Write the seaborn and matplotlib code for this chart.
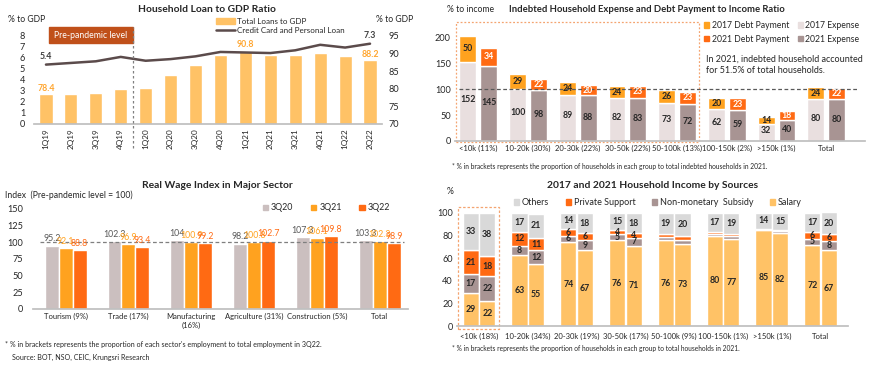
import numpy as np
import pandas as pd
import matplotlib
matplotlib.use("Agg")
import matplotlib.pyplot as plt
import matplotlib.patches as mpatches
from matplotlib.lines import Line2D
import seaborn as sns

# ---------------- data ----------------
quarters = ["1Q19", "2Q19", "3Q19", "4Q19", "1Q20", "2Q20", "3Q20", "4Q20",
            "1Q21", "2Q21", "3Q21", "4Q21", "1Q22", "2Q22"]
loans_to_gdp = [78.4, 78.4, 78.9, 79.9, 80.3, 84.0, 86.9, 89.7,
                90.8, 89.6, 89.6, 90.1, 89.2, 88.2]
credit_card_loan = [5.4, 5.55, 5.7, 6.1, 5.75, 5.9, 6.15, 6.55,
                    6.5, 6.45, 6.7, 7.2, 6.95, 7.3]

debt_groups = ["<10k (11%)", "10-20k (30%)", "20-30k (22%)", "30-50k (22%)",
               "50-100k (13%)", "100-150k (2%)", ">150k (1%)", "Total"]
expense_2017 = [152, 100, 89, 82, 73, 62, 32, 80]
debt_2017 = [50, 29, 24, 24, 26, 20, 14, 24]
expense_2021 = [145, 98, 88, 83, 72, 59, 40, 80]
debt_2021 = [34, 22, 20, 23, 23, 23, 18, 22]

sectors = ["Tourism (9%)", "Trade (17%)", "Manufacturing\n(16%)",
           "Agriculture (31%)", "Construction (5%)", "Total"]
periods = ["3Q20", "3Q21", "3Q22"]
wage_3q20 = [95.2, 102.3, 104, 98.2, 107.3, 103.3]
wage_3q21 = [92.1, 96.9, 100.9, 100.8, 106.1, 102.3]
wage_3q22 = [88.8, 93.4, 99.2, 102.7, 109.8, 98.9]

income_groups = ["<10k (18%)", "10-20k (34%)", "20-30k (19%)", "30-50k (17%)",
                 "50-100k (9%)", "100-150k (1%)", ">150k (1%)", "Total"]
salary_2017 = [29, 63, 74, 76, 76, 80, 85, 72]
subsidy_2017 = [17, 8, 6, 5, 3, 1, 0.5, 5]
private_2017 = [21, 12, 6, 4, 2, 2, 0.5, 6]
others_2017 = [33, 17, 14, 15, 19, 17, 14, 17]
salary_2021 = [22, 55, 67, 71, 73, 77, 82, 67]
subsidy_2021 = [22, 12, 9, 7, 3.5, 2.5, 2, 8]
private_2021 = [18, 11, 6, 4, 3.5, 1.5, 1, 6]
others_2021 = [38, 21, 18, 18, 20, 19, 15, 20]

# ---------------- style ----------------
sns.set_theme(style="white")
plt.rcParams["font.family"] = ["Lato", "DejaVu Sans"]
plt.rcParams["axes.edgecolor"] = "#BFBFBF"

LIGHT_OR = "#FFC266"
MID_OR = "#FFA21F"
DARK_OR = "#FF6A13"
PINK_GREY = "#E9DFDF"
MAUVE = "#A89493"
WAGE_GREY = "#CBBFBF"
LGREY = "#D9D9D9"
TXT = "#262626"

W, H = 870, 366
fig = plt.figure(figsize=(W / 100, H / 100), dpi=100)


def rect(l, t, r, b):
    return [l / W, 1 - b / H, (r - l) / W, (b - t) / H]


def clean(ax):
    for s in ["top", "left", "right"]:
        ax.spines[s].set_visible(False)
    ax.spines["bottom"].set_color("#BFBFBF")
    ax.tick_params(length=0)


TICK = 6.6
XTICK = 5.5
TITLE = 7.4
LAB = 6.3
FOOT = 4.8

# ================= Panel 1 =================
ax1 = fig.add_axes(rect(33.5, 36, 382.5, 124))
x1 = np.arange(len(quarters))
sns.barplot(x=quarters, y=loans_to_gdp, color=LIGHT_OR, saturation=1,
            width=0.53, ax=ax1)
ax1b = ax1.twinx()
ax1.set_ylim(70, 95)
ax1.set_yticks(range(70, 96, 5))
ax1.yaxis.tick_right()
ax1.tick_params(axis="y", labelsize=TICK, pad=4, colors=TXT)
ax1.tick_params(axis="x", labelsize=5.9, rotation=90, colors=TXT, pad=3)
clean(ax1)
for i in [0, 8, 13]:
    ax1.text(x1[i], loans_to_gdp[i] + 0.4, f"{loans_to_gdp[i]}", ha="center",
             va="bottom", color="#FFA630", fontsize=LAB, fontweight="bold")

sns.lineplot(x=x1, y=credit_card_loan, color="#5B4B4B", lw=1.8, ax=ax1b)
ax1b.set_ylim(0, 8)
ax1b.set_yticks(range(0, 9))
ax1b.yaxis.tick_left()
ax1b.tick_params(axis="y", labelsize=TICK, pad=6, colors=TXT, length=0)
for s in ["top", "left", "right", "bottom"]:
    ax1b.spines[s].set_visible(False)
ax1b.set_ylabel("")
for i in [0, 13]:
    ax1b.text(x1[i], credit_card_loan[i] + 0.35, f"{credit_card_loan[i]}",
              ha="center", va="bottom", color="#404040", fontsize=LAB,
              fontweight="bold")
ax1.set_xlim(-0.5, len(quarters) - 0.5)
ax1b.set_xlim(-0.5, len(quarters) - 0.5)
# pre-pandemic box and divider
ax1b.add_patch(mpatches.Rectangle((0.12, 0.92), 3.38, 0.18,
                                  transform=ax1b.get_xaxis_transform(),
                                  color="#C0501A", clip_on=False, zorder=5))
ax1b.text(1.8, 1.01, "Pre-pandemic level", transform=ax1b.get_xaxis_transform(),
          ha="center", va="center", color="white", fontsize=6.2, zorder=6)
ax1b.plot([3.5, 3.5], [-0.27, 1.10], transform=ax1b.get_xaxis_transform(),
          ls=(0, (2, 2)), color="#808080", lw=0.9, clip_on=False, zorder=6)
fig.text(207 / W, 1 - 10 / H, "Household Loan to GDP Ratio", ha="center",
         va="center", fontsize=TITLE, fontweight="bold", color=TXT)
fig.text(8 / W, 1 - 20 / H, "% to GDP", ha="left", va="center", fontsize=6.2,
         color=TXT)
fig.text(376 / W, 1 - 20 / H, "% to GDP", ha="left", va="center", fontsize=6.2,
         color=TXT)
h1 = [mpatches.Patch(color=LIGHT_OR),
      Line2D([0], [0], color="#5B4B4B", lw=1.8)]
fig.legend(h1, ["Total Loans to GDP", "Credit Card and Personal Loan"],
           loc="upper left", bbox_to_anchor=(216 / W, 1 - 18 / H), frameon=False,
           fontsize=5.8, handlelength=2.3, handleheight=0.8, labelspacing=0.25,
           handletextpad=0.3, borderaxespad=0, borderpad=0)

# ================= Panel 2 =================
ax2 = fig.add_axes(rect(455, 23, 865, 141))
g2 = np.arange(len(debt_groups))
bw2, off2 = 0.34, 0.21
ax2.bar(g2 - off2, expense_2017, bw2, color=PINK_GREY)
ax2.bar(g2 - off2, debt_2017, bw2, bottom=expense_2017, color=MID_OR)
ax2.bar(g2 + off2, expense_2021, bw2, color=MAUVE)
ax2.bar(g2 + off2, debt_2021, bw2, bottom=expense_2021, color=DARK_OR)
for i in g2:
    ax2.text(i - off2, expense_2017[i] / 2 + 4, f"{expense_2017[i]}", ha="center",
             va="center", fontsize=LAB, fontweight="bold", color=TXT)
    ax2.text(i + off2, expense_2021[i] / 2 + 2, f"{expense_2021[i]}", ha="center",
             va="center", fontsize=LAB, fontweight="bold", color=TXT)
    ax2.text(i - off2, expense_2017[i] + debt_2017[i] / 2, f"{debt_2017[i]}",
             ha="center", va="center", fontsize=LAB, fontweight="bold", color=TXT)
    ax2.text(i + off2, expense_2021[i] + debt_2021[i] / 2, f"{debt_2021[i]}",
             ha="center", va="center", fontsize=LAB, fontweight="bold",
             color="white")
ax2.axhline(100, xmin=0.01, xmax=0.98, color="#595959", ls=(0, (3, 2)), lw=0.9)
ax2.set_xlim(-0.47, 7.78)
ax2.set_ylim(0, 227)
ax2.set_yticks(range(0, 201, 50))
ax2.set_xticks(g2)
ax2.set_xticklabels(debt_groups)
clean(ax2)
ax2.tick_params(axis="y", labelsize=TICK, pad=3, colors=TXT)
ax2.tick_params(axis="x", labelsize=XTICK, pad=3, colors=TXT)
ax2.add_patch(mpatches.Rectangle((-0.44, -2), 4.87, 231, fill=False,
                                 ec="#F4A470", lw=0.9, ls=(0, (1.5, 1.5)),
                                 clip_on=False))
fig.text(447 / W, 1 - 10 / H, "% to income", ha="left", va="center",
         fontsize=6.2, color=TXT)
fig.text(647 / W, 1 - 10 / H,
         "Indebted Household Expense and Debt Payment to Income Ratio",
         ha="center", va="center", fontsize=6.8, fontweight="bold", color=TXT)
h2 = [mpatches.Patch(color=MID_OR), mpatches.Patch(color=DARK_OR),
      mpatches.Patch(color=PINK_GREY), mpatches.Patch(color=MAUVE)]
fig.legend(h2, ["2017 Debt Payment", "2021 Debt Payment", "2017 Expense",
                "2021 Expense"], ncol=2, loc="upper left",
           bbox_to_anchor=(704 / W, 1 - 21 / H), frameon=False, fontsize=6.2,
           handlelength=0.6, handleheight=0.6, handletextpad=0.3,
           columnspacing=1.0, labelspacing=0.55, borderaxespad=0, borderpad=0)
fig.text(706 / W, 1 - 65 / H,
         "In 2021, indebted household accounted\nfor 51.5% of total households.",
         ha="left", va="center", fontsize=6.5, color=TXT, linespacing=1.3)
fig.text(452 / W, 1 - 167 / H,
         "* % in brackets represents the proportion of households in each group "
         "to total indebted households in 2021.",
         ha="left", va="center", fontsize=FOOT, color=TXT)

# ================= Panel 3 =================
ax3 = fig.add_axes(rect(33, 209, 408, 309))
df3 = pd.DataFrame({
    "sector": sectors * 3,
    "period": [p for p in periods for _ in sectors],
    "value": wage_3q20 + wage_3q21 + wage_3q22,
})
sns.barplot(data=df3, x="sector", y="value", hue="period",
            palette=[WAGE_GREY, MID_OR, DARK_OR], saturation=1, width=0.667,
            gap=0, ax=ax3, legend=False)
lab_cols = ["#595959", MID_OR, DARK_OR]
for cont, col in zip(ax3.containers, lab_cols):
    ax3.bar_label(cont, fmt="%g", color=col, fontsize=6.3, padding=1.5)
ax3.axhline(100, xmin=0.02, xmax=0.99, color="#7F7F7F", ls=(0, (3, 2)), lw=0.9)
ax3.set_xlim(-0.52, 5.45)
ax3.set_ylim(0, 150)
ax3.set_yticks(range(0, 151, 25))
ax3.set_xlabel("")
ax3.set_ylabel("")
clean(ax3)
ax3.tick_params(axis="y", labelsize=TICK, pad=7, colors=TXT)
ax3.tick_params(axis="x", labelsize=XTICK, pad=3, colors=TXT)
fig.text(217 / W, 1 - 186 / H, "Real Wage Index in Major Sector", ha="center",
         va="center", fontsize=TITLE, fontweight="bold", color=TXT)
fig.text(5 / W, 1 - 195 / H, "Index  (Pre-pandemic level = 100)", ha="left",
         va="center", fontsize=6.2, color=TXT)
h3 = [mpatches.Patch(color=c) for c in [WAGE_GREY, MID_OR, DARK_OR]]
fig.legend(h3, periods, ncol=3, loc="center left",
           bbox_to_anchor=(263 / W, 1 - 208 / H), frameon=False, fontsize=6.4,
           handlelength=0.6, handleheight=0.6, handletextpad=0.3,
           columnspacing=2.0, borderaxespad=0, borderpad=0)
fig.text(5 / W, 1 - 345 / H,
         "* % in brackets represents the proportion of each sector's employment "
         "to total employment in 3Q22.",
         ha="left", va="center", fontsize=FOOT + 0.3, color=TXT)
fig.text(12 / W, 1 - 357 / H, "Source: BOT, NSO, CEIC, Krungsri Research",
         ha="left", va="center", fontsize=FOOT + 0.3, color=TXT)

# ================= Panel 4 =================
ax4 = fig.add_axes(rect(457, 213, 848, 326))
g4 = np.arange(len(income_groups))
bw4, off4 = 0.33, 0.17
for off, segs in [(-off4, [salary_2017, subsidy_2017, private_2017, others_2017]),
                  (off4, [salary_2021, subsidy_2021, private_2021, others_2021])]:
    bottom = np.zeros(len(g4))
    for vals, col in zip(segs, [LIGHT_OR, MAUVE, DARK_OR, LGREY]):
        vals = np.array(vals, dtype=float)
        ax4.bar(g4 + off, vals, bw4, bottom=bottom, color=col)
        for i in g4:
            if vals[i] >= 4:
                ax4.text(i + off, bottom[i] + vals[i] / 2, f"{vals[i]:g}",
                         ha="center", va="center", fontsize=LAB,
                         fontweight="bold", color=TXT)
        bottom += vals
ax4.set_xlim(-0.45, 7.56)
ax4.set_ylim(0, 100)
ax4.set_yticks(range(0, 101, 20))
ax4.set_xticks(g4)
ax4.set_xticklabels(income_groups)
clean(ax4)
ax4.tick_params(axis="y", labelsize=TICK, pad=3, colors=TXT)
ax4.tick_params(axis="x", labelsize=XTICK, pad=5, colors=TXT)
ax4.add_patch(mpatches.Rectangle((-0.43, -2.6), 0.84, 107.9, fill=False,
                                 ec="#F4A470", lw=0.9, ls=(0, (2, 1.5)),
                                 clip_on=False))
fig.text(653 / W, 1 - 185 / H, "2017 and 2021 Household Income by Sources",
         ha="center", va="center", fontsize=TITLE, fontweight="bold", color=TXT)
fig.text(447 / W, 1 - 192 / H, "%", ha="left", va="center", fontsize=6.2,
         color=TXT)
h4 = [mpatches.Patch(color=c) for c in [LGREY, DARK_OR, MAUVE, LIGHT_OR]]
fig.legend(h4, ["Others", "Private Support", "Non-monetary  Subsidy", "Salary"],
           ncol=4, loc="center left", bbox_to_anchor=(514 / W, 1 - 203 / H),
           frameon=False, fontsize=6.5, handlelength=0.6, handleheight=0.6,
           handletextpad=0.3, columnspacing=1.8, borderaxespad=0, borderpad=0)
fig.text(452 / W, 1 - 349 / H,
         "* % in brackets represents the proportion of households in each group "
         "to total households in 2021.",
         ha="left", va="center", fontsize=FOOT, color=TXT)

fig.savefig("out.png", dpi=100)
